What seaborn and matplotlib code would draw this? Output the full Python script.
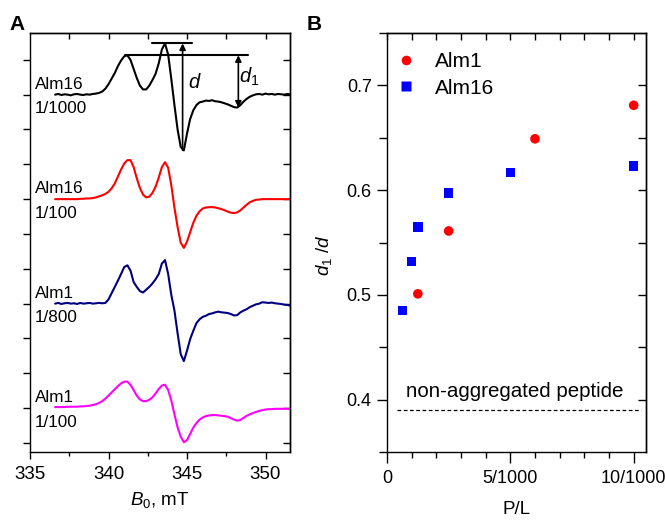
import numpy as np
import pandas as pd
import matplotlib
matplotlib.use("Agg")
import matplotlib.pyplot as plt
import seaborn as sns

# ---------------- data ----------------
# Field grid (mT) for panel A spectra
field = [336.6 + 0.2 * k for k in range(76)]

# spectra relative to their own baselines (arbitrary units)
alm16_1000 = [0, 0.02, -0.01, 0.01, 0, -0.02, 0.01, 0.02, 0, -0.01, 0.01, 0, 0.02,
              0.03, 0.05, 0.09, 0.17, 0.3, 0.46, 0.62, 0.82, 0.98, 1.1, 1.13, 1.0,
              0.74, 0.48, 0.26, 0.15, 0.15, 0.26, 0.42, 0.6, 0.9, 1.3, 1.47, 1.15,
              0.45, -0.3, -1.0, -1.5, -1.6, -1.12, -0.7, -0.45, -0.3, -0.22, -0.2,
              -0.17, -0.18, -0.16, -0.19, -0.2, -0.22, -0.25, -0.28, -0.32, -0.36,
              -0.37, -0.3, -0.2, -0.12, -0.06, -0.02, 0.01, 0.02, 0.0, 0.03, 0.01,
              0.02, 0.0, 0.02, 0.01, 0.0, 0.02, 0.0]
alm16_100 = [0, 0, 0, 0, 0, 0, 0, 0, 0.01, 0.01, 0.02, 0.02, 0.03, 0.05, 0.08, 0.11,
             0.15, 0.21, 0.31, 0.45, 0.65, 0.85, 1.02, 1.12, 1.12, 0.92, 0.6, 0.32,
             0.13, 0.05, 0.07, 0.18, 0.36, 0.62, 0.92, 1.06, 0.9, 0.4, -0.25, -0.8,
             -1.25, -1.4, -1.22, -0.95, -0.68, -0.48, -0.35, -0.27, -0.24, -0.23,
             -0.23, -0.24, -0.26, -0.29, -0.32, -0.36, -0.39, -0.4, -0.38, -0.32,
             -0.24, -0.16, -0.09, -0.05, -0.02, -0.01, 0, 0, 0, 0, 0, 0, 0, 0, 0, 0]
alm1_800 = [0, 0.02, -0.01, 0.01, 0.02, 0, 0.01, -0.01, 0.02, 0.0, 0.01, 0.02, 0,
            0.01, 0.02, 0.01, 0.02, 0.12, 0.3, 0.48, 0.66, 0.85, 1.05, 1.1, 0.95,
            0.62, 0.48, 0.36, 0.32, 0.4, 0.48, 0.58, 0.7, 0.85, 1.15, 1.25, 0.85,
            0.25, -0.2, -0.85, -1.45, -1.65, -1.35, -1.02, -0.78, -0.56, -0.45,
            -0.38, -0.35, -0.3, -0.28, -0.25, -0.23, -0.25, -0.26, -0.27, -0.3,
            -0.34, -0.33, -0.25, -0.2, -0.16, -0.1, -0.06, -0.02, 0.0, 0.04, 0.03,
            0.02, 0.03, 0.01, 0.0, -0.01, -0.03, -0.04, -0.06]
alm1_100 = [0.03, 0.03, 0.03, 0.03, 0.04, 0.04, 0.04, 0.04, 0.05, 0.05, 0.06, 0.07,
            0.09, 0.11, 0.15, 0.2, 0.27, 0.36, 0.45, 0.54, 0.63, 0.71, 0.76, 0.76,
            0.67, 0.52, 0.36, 0.25, 0.2, 0.2, 0.24, 0.31, 0.42, 0.55, 0.65, 0.67,
            0.52, 0.22, -0.18, -0.55, -0.82, -0.98, -0.92, -0.74, -0.56, -0.43,
            -0.33, -0.27, -0.23, -0.21, -0.2, -0.2, -0.21, -0.22, -0.23, -0.25,
            -0.29, -0.33, -0.36, -0.34, -0.28, -0.22, -0.18, -0.14, -0.11, -0.08,
            -0.06, -0.04, -0.03, -0.03, -0.02, -0.02, -0.02, -0.02, -0.02, -0.02]

trace_peptides = ["Alm16", "Alm16", "Alm1", "Alm1"]
trace_ratios = ["1/1000", "1/100", "1/800", "1/100"]
trace_colors = ["black", "#ff0000", "#000080", "#ff00ff"]

# Panel B: d1/d vs P/L
alm1_pl = [0.00125, 0.0025, 0.006, 0.01]
alm1_ratio = [0.501, 0.561, 0.649, 0.681]
alm16_pl = [0.000625, 0.001, 0.00125, 0.0025, 0.005, 0.01]
alm16_ratio = [0.485, 0.532, 0.565, 0.597, 0.617, 0.623]
non_aggregated = 0.39

# ---------------- style ----------------
sns.set_theme(style="ticks")
plt.rcParams["font.family"] = ["Liberation Sans", "DejaVu Sans"]
plt.rcParams["mathtext.fontset"] = "custom"
plt.rcParams["mathtext.it"] = "Liberation Sans:italic"
plt.rcParams["mathtext.rm"] = "Liberation Sans"
plt.rcParams["axes.linewidth"] = 1.0
for key in ["text.color", "axes.labelcolor", "xtick.color", "ytick.color",
            "axes.edgecolor"]:
    plt.rcParams[key] = "black"

fig = plt.figure(figsize=(6.65, 5.23), dpi=100)
W, H = 665, 523
axA = fig.add_axes([30 / W, 1 - 452 / H, 260 / W, 419 / H])
axB = fig.add_axes([387 / W, 1 - 452 / H, 259 / W, 419 / H])

# ---------------- panel A ----------------
traces = [alm16_1000, alm16_100, alm1_800, alm1_100]
baselines = [10, 7, 4, 1]
for sig, base, col, pep, rat in zip(traces, baselines, trace_colors,
                                    trace_peptides, trace_ratios):
    df = pd.DataFrame({"B": field, "y": np.array(sig) + base})
    sns.lineplot(data=df, x="B", y="y", ax=axA, color=col, lw=1.5, sort=False)
    axA.text(335.3, base + 0.30, pep, fontsize=12.3, ha="left", va="center")
    axA.text(335.3, base - 0.40, rat, fontsize=12.3, ha="left", va="center")

axA.set_xlim(335, 351.56)
axA.set_ylim(-0.26, 11.77)
axA.set_xticks([335, 340, 345, 350])
axA.set_xticks([337.5, 342.5, 347.5], minor=True)
axA.set_yticks(range(12))
axA.set_yticklabels([])
axA.tick_params(axis="x", which="major", direction="out", length=5, width=1,
                labelsize=13.5, pad=5, bottom=True, top=False)
axA.tick_params(axis="x", which="minor", direction="out", length=3, width=1,
                bottom=True, top=False)
axA.tick_params(axis="y", direction="out", length=5, width=1, left=True, right=False)
secx = axA.secondary_xaxis("top")
secx.set_xticks([337.5, 340, 342.5, 345, 347.5, 350])
secx.tick_params(direction="in", length=4, width=1, labeltop=False)
secy = axA.secondary_yaxis("right")
secy.set_yticks(range(12))
secy.tick_params(direction="in", length=5, width=1, labelright=False)
axA.set_xlabel(r"$B_0$, mT", fontsize=13.5, labelpad=5)
axA.set_ylabel("")

# measurement annotations (peak levels of top spectrum)
p1 = 10 + max(alm16_1000[20:27])
p2 = 10 + max(alm16_1000[32:38])
mn = 10 + min(alm16_1000[38:45])
m1 = 10 + min(alm16_1000[55:62])
axA.plot([341.05, 348.9], [p1, p1], color="black", lw=1.5)
axA.plot([342.8, 345.3], [p2, p2], color="black", lw=1.5)
axA.annotate("", xy=(344.72, p2), xytext=(344.72, mn),
             arrowprops=dict(arrowstyle="-|>", color="black", lw=1.2,
                             mutation_scale=9, shrinkA=0, shrinkB=0))
axA.annotate("", xy=(348.27, p1), xytext=(348.27, m1),
             arrowprops=dict(arrowstyle="<|-|>", color="black", lw=1.2,
                             mutation_scale=9, shrinkA=0, shrinkB=0))
axA.text(345.5, 10.35, r"$d$", fontsize=14.5, ha="center", va="center")
axA.text(348.95, 10.5, r"$d_1$", fontsize=14.5, ha="center", va="center")

# ---------------- panel B ----------------
dfB = pd.DataFrame({
    "PL": alm1_pl + alm16_pl,
    "ratio": alm1_ratio + alm16_ratio,
    "series": ["Alm1"] * len(alm1_pl) + ["Alm16"] * len(alm16_pl),
})
sns.scatterplot(data=dfB, x="PL", y="ratio", hue="series", style="series",
                palette={"Alm1": "#ff0000", "Alm16": "#0000ff"},
                markers={"Alm1": "o", "Alm16": "s"}, s=48, edgecolor="none",
                ax=axB)
axB.axhline(non_aggregated, xmin=0.04, xmax=0.98, color="black", lw=0.9,
            ls=(0, (3, 2)))
axB.text(0.00516, 0.408, "non-aggregated peptide", fontsize=14.8, ha="center",
         va="center")

axB.set_xlim(0, 0.0105)
axB.set_ylim(0.35, 0.75)
axB.set_xticks([0, 0.005, 0.01])
axB.set_xticklabels(["0", "5/1000", "10/1000"])
axB.set_xticks([0.001 * k for k in range(11) if k % 5], minor=True)
axB.set_yticks([0.4, 0.5, 0.6, 0.7])
axB.set_yticklabels(["0.4", "0.5", "0.6", "0.7"])
axB.set_yticks([0.35, 0.45, 0.55, 0.65, 0.75], minor=True)
axB.tick_params(axis="x", which="major", direction="out", length=8, width=1,
                labelsize=13, pad=5)
axB.tick_params(axis="x", which="minor", direction="out", length=4, width=1)
axB.tick_params(axis="y", which="major", direction="out", length=7, width=1,
                labelsize=13, pad=4)
axB.tick_params(axis="y", which="minor", direction="out", length=6, width=1)
secxB = axB.secondary_xaxis("top")
secxB.set_xticks([0.001 * k for k in range(11)])
secxB.tick_params(direction="in", length=5, width=1, labeltop=False)
secyB = axB.secondary_yaxis("right")
secyB.set_yticks([0.4, 0.45, 0.5, 0.55, 0.6, 0.65, 0.7])
secyB.tick_params(direction="in", length=6, width=1, labelright=False)
axB.set_xlabel("P/L", fontsize=13.5, labelpad=10)
axB.set_ylabel(r"$d_1$ /$d$", fontsize=13.5)
axB.yaxis.set_label_coords(-0.205, 0.47)

leg = axB.legend(loc="upper left", bbox_to_anchor=(0.0, 0.974), frameon=False,
                 fontsize=15, title=None, handlelength=1.0, handletextpad=0.9,
                 borderaxespad=0.0, labelspacing=0.35)

fig.text(17 / W, 1 - 25 / H, "A", fontsize=15, fontweight="bold",
         ha="center", va="center")
fig.text(314 / W, 1 - 24 / H, "B", fontsize=15, fontweight="bold",
         ha="center", va="center")

fig.savefig("out.png", dpi=100)
